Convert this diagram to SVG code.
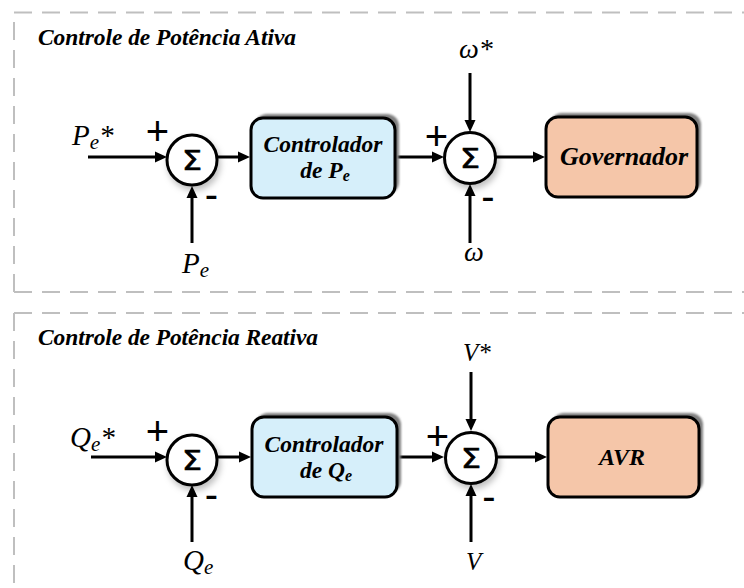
<svg xmlns="http://www.w3.org/2000/svg" width="744" height="588" viewBox="0 0 744 588">
<defs>
  <marker id="ah" viewBox="0 0 12 12" refX="6" refY="6" markerWidth="12" markerHeight="12" markerUnits="userSpaceOnUse" orient="auto">
    <path d="M0,0.5 L12,6 L0,11.5 z" fill="#000"/>
  </marker>
  <filter id="cs" x="-40%" y="-40%" width="180%" height="180%">
    <feDropShadow dx="2" dy="4" stdDeviation="3" flood-color="#000" flood-opacity="0.25"/>
  </filter>
  <filter id="bs" x="-10%" y="-10%" width="120%" height="120%">
    <feGaussianBlur stdDeviation="0.8"/>
  </filter>
</defs>
<style>
  .panel{stroke:#BFBFBF;stroke-width:2;stroke-dasharray:18 10;fill:none}
  .title{font-family:"Liberation Serif",serif;font-weight:bold;font-style:italic;font-size:23.5px;fill:#000}
  .box{stroke:#000;stroke-width:3}
  .blue{fill:#D6EFFA}
  .peach{fill:#F5C6A9}
  .shadow{fill:#7F7F7F;filter:url(#bs)}
  .btxt{font-family:"Liberation Serif",serif;font-weight:bold;font-style:italic;text-anchor:middle;fill:#000}
  .math{font-family:"Liberation Serif",serif;font-style:italic;fill:#000}
  .sum{fill:#fff;stroke:#000;stroke-width:3;filter:url(#cs)}
  .sig{font-family:"DejaVu Sans",sans-serif;font-size:26px;text-anchor:middle;fill:#000;stroke:#000;stroke-width:0.7}
  .sign{font-family:"Liberation Sans",sans-serif;font-size:40px;text-anchor:middle;fill:#000}
  .conn{stroke:#000;stroke-width:3;fill:none;marker-end:url(#ah)}
</style>

<g id="panel-ativa">
  <path class="panel" d="M14,12.5 H760"/>
  <path class="panel" d="M14,292 V12.5"/>
  <path class="panel" d="M14,292 H760"/>
  <text class="title" x="38" y="45" textLength="258">Controle de Potência Ativa</text>
</g>
<g id="panel-reativa">
  <path class="panel" d="M14,313 H760"/>
  <path class="panel" d="M14,313 V600"/>
  <text class="title" x="38" y="345" textLength="280">Controle de Potência Reativa</text>
</g>

<g id="connectors">
  <path class="conn" d="M88,157 H161"/>
  <path class="conn" d="M217.5,157 H244"/>
  <path class="conn" d="M192,243 V192"/>
  <path class="conn" d="M396,157 H438"/>
  <path class="conn" d="M470,73 V126"/>
  <path class="conn" d="M470,243 V190"/>
  <path class="conn" d="M495.5,157 H539"/>

  <path class="conn" d="M91,457 H161"/>
  <path class="conn" d="M217.5,457 H245"/>
  <path class="conn" d="M192,542 V491"/>
  <path class="conn" d="M397,457 H438"/>
  <path class="conn" d="M471,372 V425"/>
  <path class="conn" d="M471,542 V490"/>
  <path class="conn" d="M496,457 H541"/>
</g>

<g id="sum1">
  <circle class="sum" cx="192" cy="160" r="25"/>
  <text class="sig" x="192" y="169.5" textLength="20" lengthAdjust="spacingAndGlyphs">Σ</text>
  <text class="sign" x="157.5" y="145">+</text>
  <text class="sign" x="211.5" y="208">-</text>
</g>
<g id="ctrlP">
  <rect class="shadow" x="255" y="114" width="144" height="80" rx="12"/>
  <rect class="box blue" x="251" y="118" width="144" height="80" rx="12"/>
  <text class="btxt" x="323" y="152" font-size="23.5" textLength="119">Controlador</text>
  <text class="btxt" x="325" y="178" font-size="23.5">de P<tspan font-size="16" dy="3">e</tspan></text>
</g>
<g id="sum2">
  <circle class="sum" cx="470" cy="158" r="25.5"/>
  <text class="sig" x="470" y="167.5" textLength="20" lengthAdjust="spacingAndGlyphs">Σ</text>
  <text class="sign" x="436.5" y="149.5">+</text>
  <text class="sign" x="488" y="209.5">-</text>
</g>
<g id="gov">
  <rect class="shadow" x="550" y="113" width="151" height="80" rx="12"/>
  <rect class="box peach" x="546" y="117" width="151" height="80" rx="12"/>
  <text class="btxt" x="624" y="165" font-size="26" textLength="128">Governador</text>
</g>
<g id="lbl-Pref"><text class="math" x="72" y="145" font-size="29">P<tspan font-size="21" dy="4">e</tspan><tspan dy="-4">*</tspan></text></g>
<g id="lbl-Pe"><text class="math" x="182" y="273" font-size="29">P<tspan font-size="21" dy="4">e</tspan></text></g>
<g id="lbl-wref"><text class="math" x="459" y="58" font-size="28">ω*</text></g>
<g id="lbl-w"><text class="math" x="464" y="261" font-size="28">ω</text></g>

<g id="sum3">
  <circle class="sum" cx="192" cy="460" r="25"/>
  <text class="sig" x="192" y="469.5" textLength="20" lengthAdjust="spacingAndGlyphs">Σ</text>
  <text class="sign" x="157.5" y="445">+</text>
  <text class="sign" x="211.5" y="508">-</text>
</g>
<g id="ctrlQ">
  <rect class="shadow" x="256" y="413" width="145" height="80" rx="12"/>
  <rect class="box blue" x="252" y="417" width="145" height="80" rx="12"/>
  <text class="btxt" x="324" y="452" font-size="23.5" textLength="119">Controlador</text>
  <text class="btxt" x="326" y="478" font-size="23.5">de Q<tspan font-size="16" dy="3">e</tspan></text>
</g>
<g id="sum4">
  <circle class="sum" cx="471" cy="458" r="25.5"/>
  <text class="sig" x="471" y="467.5" textLength="20" lengthAdjust="spacingAndGlyphs">Σ</text>
  <text class="sign" x="437.5" y="449.5">+</text>
  <text class="sign" x="489" y="509.5">-</text>
</g>
<g id="avr">
  <rect class="shadow" x="552" y="413" width="151" height="80" rx="12"/>
  <rect class="box peach" x="548" y="417" width="151" height="80" rx="12"/>
  <text class="btxt" x="622" y="465" font-size="24" textLength="46">AVR</text>
</g>
<g id="lbl-Qref"><text class="math" x="70" y="447" font-size="29">Q<tspan font-size="21" dy="4">e</tspan><tspan dy="-4">*</tspan></text></g>
<g id="lbl-Qe"><text class="math" x="183" y="570" font-size="29">Q<tspan font-size="21" dy="4">e</tspan></text></g>
<g id="lbl-Vref"><text class="math" x="463" y="361" font-size="25">V*</text></g>
<g id="lbl-V"><text class="math" x="466" y="570" font-size="25">V</text></g>
</svg>
